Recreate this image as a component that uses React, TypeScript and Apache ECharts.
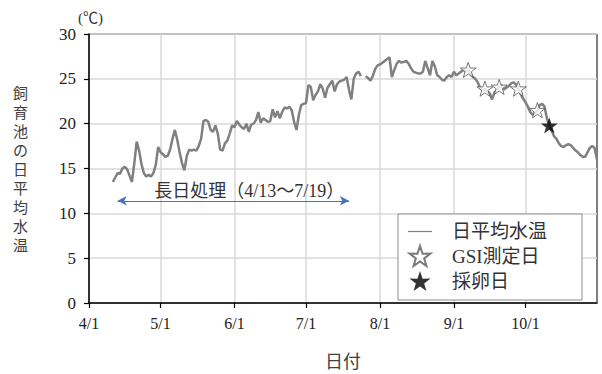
import React, { useEffect, useRef } from "react";
import * as echarts from "echarts";

// Months shown on the date axis and their lengths (4/1 .. 10/31)
const MONTHS = [4, 5, 6, 7, 8, 9, 10];
const MONTH_DAYS = [30, 31, 30, 31, 31, 30, 31];

// Daily mean water temperature of the rearing pond (°C), one value per day
const aprTemps = [
  null, null, null, null, null, null, null, null, null, null,
  13.5, 14.0, 14.5, 14.4, 15.0, 15.2, 14.9, 14.2, 13.5, 15.6,
  18.0, 17.0, 15.5, 14.5, 14.1, 14.3, 14.1, 14.5, 15.4, 17.4,
];
const mayTemps = [
  16.8, 16.6, 16.3, 16.4, 17.1, 18.3, 19.3, 18.2, 16.8, 15.6,
  14.8, 16.4, 17.1, 17.0, 17.1, 17.0, 17.5, 18.3, 20.3, 20.4,
  20.2, 19.3, 19.1, 19.8, 18.9, 17.1, 17.0, 17.8, 18.1, 18.9, 19.8,
];
const junTemps = [
  19.6, 20.3, 19.9, 19.6, 19.4, 20.0, 19.1, 19.9, 20.0, 20.4,
  21.3, 20.1, 20.6, 20.4, 20.2, 20.3, 21.6, 20.7, 21.4, 20.6,
  21.3, 21.8, 21.7, 21.9, 21.5, 20.2, 19.3, 21.0, 22.1, 22.2,
];
const julTemps = [
  22.3, 24.3, 24.1, 22.6, 23.2, 23.6, 24.4, 23.9, 22.9, 24.0,
  24.4, 24.8, 23.6, 24.4, 24.7, 24.8, 24.9, 25.2, 23.8, 22.7,
  25.0, 25.6, 25.8, 25.3, null, 25.3, 25.1, 24.8, 25.3, 26.1, 26.5,
];
const augTemps = [
  26.6, 26.8, 27.0, 27.2, 27.4, 25.2, 26.0, 26.7, 27.0, 26.8,
  26.9, 27.0, 26.7, 26.2, 25.8, 25.7, 25.6, 25.6, 25.8, 27.0,
  26.2, 25.4, 27.0, 26.4, 25.4, 25.2, 24.9, 24.8, 25.2, 25.4, 25.2,
];
const sepTemps = [
  25.8, 25.4, 25.6, 25.8, 26.0, 25.8, 26.0, 25.5, 25.2, 25.0,
  24.6, 24.0, 23.7, 23.9, 23.6, 23.4, 22.7, 23.5, 23.7, 24.1,
  24.3, 23.8, 24.0, 24.2, 24.5, 24.6, 24.4, 23.9, 23.3, 22.8,
];
const octTemps = [
  22.4, 21.9, 21.3, 21.0, 21.2, 21.5, 22.1, 22.2, 21.9, 20.6,
  19.8, 19.2, 18.6, 18.3, 17.8, 17.5, 17.4, 17.6, 17.7, 17.6,
  17.3, 17.0, 16.8, 16.5, 16.3, 16.3, 16.8, 17.3, 17.5, 17.3, 16.0,
];

// Sampling days for GSI and the spawning day
const gsiDates = ["9/7", "9/14", "9/20", "9/28", "10/6"];
const spawnDates = ["10/11"];

// Long-day treatment period
const longDayStart = "4/13";
const longDayEnd = "7/19";
const longDayLevel = 11.4;

// Y axis ticks
const Y_MIN = 0;
const Y_MAX = 30;
const Y_STEP = 5;

const dates: string[] = [];
MONTHS.forEach((m, i) => {
  for (let d = 1; d <= MONTH_DAYS[i]; d++) dates.push(`${m}/${d}`);
});
const temps = [
  ...aprTemps, ...mayTemps, ...junTemps, ...julTemps,
  ...augTemps, ...sepTemps, ...octTemps,
];

const tempOn = (date: string) => temps[dates.indexOf(date)];

const STAR =
  "path://M50,0 L61.8,35.1 L98.1,34.5 L69,56.7 L79.4,91.5 L50,70.7 L20.6,91.5 L31,56.7 L1.9,34.5 L38.2,35.1 Z";
const LINE_ICON = "path://M0,0 L24,0 L24,1.2 L0,1.2 Z";

const SERIF =
  "Liberation Serif, Times New Roman, Times, Noto Sans CJK JP, serif";
const GOTHIC = "Noto Sans CJK JP, sans-serif";

const isMonthStart = (_: number, value: string) => value.endsWith("/1");

export default function App() {
  const ref = useRef<HTMLDivElement>(null);

  useEffect(() => {
    if (!ref.current) return;
    const chart = echarts.init(ref.current, null, { renderer: "svg" });

    const yName = "飼育池の日平均水温".split("").join("\n");

    chart.setOption({
      animation: false,
      backgroundColor: "#fff",
      textStyle: { fontFamily: SERIF },
      grid: {
        left: 89,
        right: 5,
        top: 34,
        bottom: 63,
        show: true,
        borderColor: "#000",
        borderWidth: 1,
        backgroundColor: "transparent",
      },
      xAxis: {
        type: "category",
        data: dates,
        boundaryGap: false,
        name: "日付",
        nameLocation: "middle",
        nameGap: 48,
        nameTextStyle: { fontFamily: GOTHIC, fontSize: 18, color: "#404040" },
        axisLine: { lineStyle: { color: "#000", width: 1.5 } },
        axisTick: {
          interval: isMonthStart,
          length: 5,
          lineStyle: { color: "#000", width: 1.2 },
        },
        axisLabel: {
          interval: isMonthStart,
          margin: 12,
          fontFamily: SERIF,
          fontSize: 16,
          color: "#222",
        },
        splitLine: {
          show: true,
          interval: isMonthStart,
          lineStyle: { color: "#d9d9d9", width: 1.5 },
        },
      },
      yAxis: {
        type: "value",
        min: Y_MIN,
        max: Y_MAX,
        interval: Y_STEP,
        name: yName,
        nameLocation: "middle",
        nameRotate: 0,
        nameGap: 61,
        nameTextStyle: {
          fontFamily: GOTHIC,
          fontSize: 15,
          lineHeight: 19,
          color: "#404040",
          padding: [0, 0, 18, 0],
        },
        axisLine: { show: true, lineStyle: { color: "#000", width: 1.5 } },
        axisTick: { show: true, length: 5, lineStyle: { color: "#000", width: 1.2 } },
        axisLabel: { margin: 13, fontFamily: SERIF, fontSize: 17, color: "#222" },
        splitLine: { lineStyle: { color: "#d9d9d9", width: 1.5 } },
      },
      legend: {
        orient: "vertical",
        left: 398,
        top: 214,
        itemWidth: 24,
        itemHeight: 20,
        itemGap: 4,
        padding: [8, 35, 9, 10],
        backgroundColor: "#fff",
        borderColor: "#8c8c8c",
        borderWidth: 1,
        borderRadius: 0,
        selectedMode: false,
        symbolKeepAspect: true,
        formatter: (name: string) => `{t|${name}}`,
        textStyle: {
          rich: {
            t: {
              fontFamily: SERIF,
              fontSize: 19,
              color: "#333",
              padding: [0, 0, 0, 15],
            },
          },
        },
        data: [
          { name: "日平均水温", icon: LINE_ICON },
          { name: "GSI測定日", icon: STAR },
          { name: "採卵日", icon: STAR },
        ],
      },
      graphic: [
        {
          type: "text",
          left: 78,
          top: 10,
          style: { text: "(℃)", fontFamily: SERIF, fontSize: 15, fill: "#333" },
        },
      ],
      series: [
        {
          name: "日平均水温",
          type: "line",
          data: temps,
          symbol: "none",
          connectNulls: false,
          itemStyle: { color: "#808080" },
          lineStyle: { color: "#808080", width: 2.5 },
          z: 2,
          markLine: {
            silent: true,
            symbol: ["arrow", "arrow"],
            symbolSize: [7, 9],
            lineStyle: { color: "#4472C4", width: 1, type: "solid" },
            emphasis: { disabled: true },
            label: {
              show: true,
              position: "middle",
              distance: 1,
              formatter: `{pad|}{t|長日処理（${longDayStart}～${longDayEnd}）}`,
              rich: {
                pad: { width: 32 },
                t: { fontFamily: SERIF, fontSize: 18, color: "#333" },
              },
            },
            data: [
              [
                { coord: [longDayStart, longDayLevel] },
                { coord: [longDayEnd, longDayLevel] },
              ],
            ],
          },
        },
        {
          name: "GSI測定日",
          type: "scatter",
          data: gsiDates.map((d) => [d, tempOn(d)]),
          symbol: STAR,
          symbolSize: 16,
          symbolKeepAspect: true,
          itemStyle: { color: "#fff", borderColor: "#595959", borderWidth: 1 },
          z: 3,
        },
        {
          name: "採卵日",
          type: "scatter",
          data: spawnDates.map((d) => [d, tempOn(d)]),
          symbol: STAR,
          symbolSize: 17,
          symbolKeepAspect: true,
          itemStyle: { color: "#000" },
          z: 4,
        },
      ],
    });

    return () => chart.dispose();
  }, []);

  return (
    <div
      ref={ref}
      style={{ position: "fixed", left: 0, top: 0, width: 602, height: 374 }}
    />
  );
}
